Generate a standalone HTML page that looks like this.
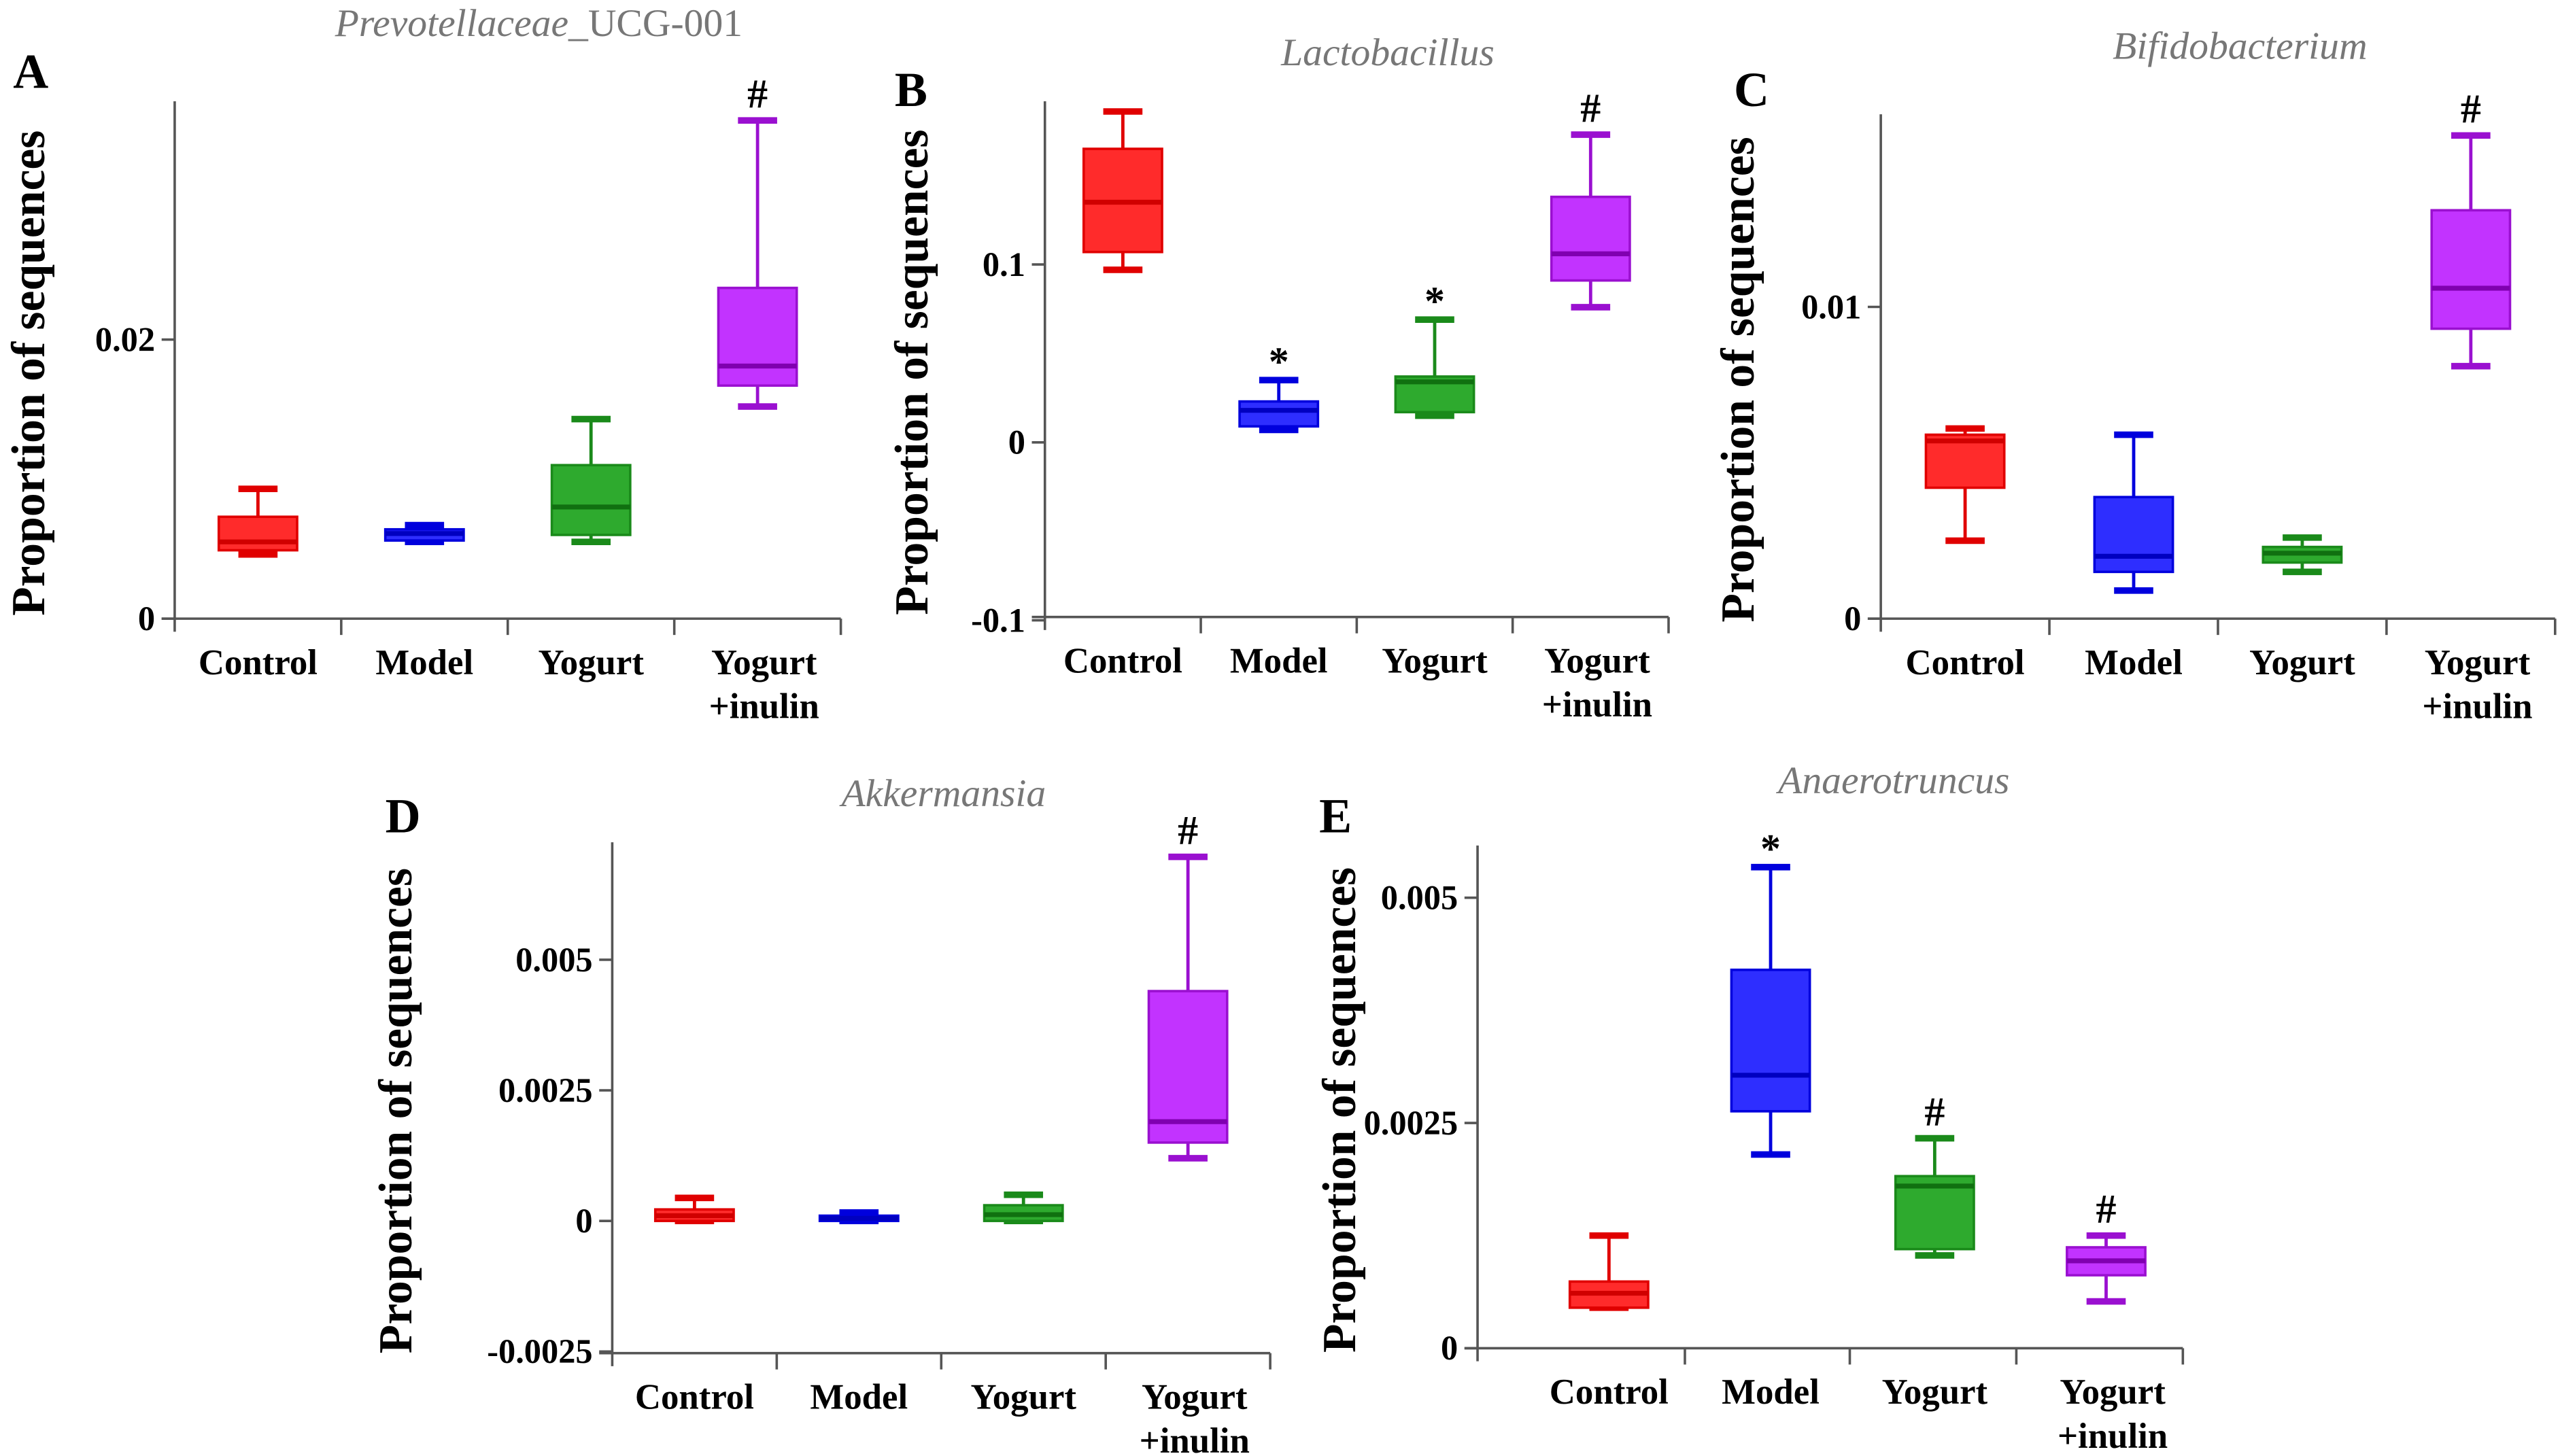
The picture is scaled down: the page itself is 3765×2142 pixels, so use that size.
<!DOCTYPE html>
<html><head><meta charset="utf-8"><style>
html,body{margin:0;padding:0;background:#fff}
svg{display:block}
</style></head><body>
<svg id="fig" width="3765" height="2142" viewBox="0 0 1568 892" xmlns="http://www.w3.org/2000/svg" font-family="'Liberation Serif', 'Times New Roman', serif"></svg>
<script>
const categories = ["Control","Model","Yogurt","Yogurt+inulin"];
// [min, q1, median, q3, max] per group
const prevotellaData = [[0.0046,0.0049,0.0055,0.0073,0.0093],[0.0055,0.0056,0.0061,0.0064,0.0067],[0.0055,0.006,0.008,0.011,0.0143],[0.0152,0.0167,0.0181,0.0237,0.0357]];
const lactoData = [[0.097,0.107,0.135,0.165,0.186],[0.007,0.009,0.018,0.023,0.035],[0.015,0.017,0.034,0.037,0.069],[0.076,0.091,0.106,0.138,0.173]];
const bifidoData = [[0.0025,0.0042,0.0057,0.0059,0.0061],[0.0009,0.0015,0.002,0.0039,0.0059],[0.0015,0.0018,0.0021,0.0023,0.0026],[0.0081,0.0093,0.0106,0.0131,0.0155]];
const akkData = [[0,0,0.0001,0.00022,0.00044],[0,0,0.00005,0.0001,0.00016],[0,0,0.00012,0.0003,0.0005],[0.0012,0.0015,0.0019,0.0044,0.00697]];
const anaeroData = [[0.00045,0.00045,0.00061,0.00074,0.00125],[0.00215,0.00263,0.00303,0.0042,0.00534],[0.00103,0.0011,0.0018,0.00191,0.00233],[0.00052,0.00081,0.00097,0.00112,0.00125]];
const prevotellaTicks = [0,0.02], prevotellaTickLabels = ["0","0.02"];
const lactoTicks = [-0.1,0,0.1], lactoTickLabels = ["-0.1","0","0.1"];
const bifidoTicks = [0,0.01], bifidoTickLabels = ["0","0.01"];
const akkTicks = [-0.0025,0,0.0025,0.005], akkTickLabels = ["-0.0025","0","0.0025","0.005"];
const anaeroTicks = [0,0.0025,0.005], anaeroTickLabels = ["0","0.0025","0.005"];
const prevotellaMarks = ["","","","#"], lactoMarks = ["","*","*","#"], bifidoMarks = ["","","","#"], akkMarks = ["","","","#"], anaeroMarks = ["","*","#","#"];

const fills = ["#ff2b2b","#2e2eff","#2eaa2e","#c233ff"];
const strokes = ["#e00000","#0000dd","#1a8a1a","#9a10d0"];
const meds = ["#d00000","#0000c0","#107010","#8000b0"];
const FONT = "'Liberation Serif', 'Times New Roman', serif";
const NS = "http://www.w3.org/2000/svg";
const svg = document.getElementById('fig');
function el(tag, attrs, parent, txt){const e=document.createElementNS(NS,tag);for(const k in attrs)e.setAttribute(k,attrs[k]);if(tag==='text')e.setAttribute('font-family',FONT);if(txt!==undefined)e.textContent=txt;(parent||svg).appendChild(e);return e;}

function panel(cfg){
  const g = el('g',{});
  
  
  const yScale = v => cfg.y0 + (v - cfg.v0)/(cfg.v1 - cfg.v0)*(cfg.y1 - cfg.y0);
  const step = (cfg.xEnd - cfg.x0)/4;
  const divs = cfg.divs || [1,2,3,4].map(i=>cfg.x0+step*i);
  const edges = [cfg.x0].concat(divs);
  const xc = i => (cfg.centerShift? (edges[i]+edges[i+1])/2 + cfg.centerShift[i] : (edges[i]+edges[i+1])/2);
  const ya = el('line',{x1:cfg.x0,y1:cfg.top,x2:cfg.x0,y2:cfg.base+8,stroke:'#555','stroke-width':1.5},g);
  
  
  const xa = el('line',{x1:cfg.x0-8,y1:cfg.base,x2:cfg.xEnd,y2:cfg.base,stroke:'#555','stroke-width':1.5},g);
  
  
  divs.forEach(x=>{el('line',{x1:x,y1:cfg.base,x2:x,y2:cfg.base+10,stroke:'#555','stroke-width':1.5},g);});
  cfg.ticks.forEach((t,i)=>{
    const y=yScale(t);
    el('line',{x1:cfg.x0-8,y1:y,x2:cfg.x0,y2:y,stroke:'#555','stroke-width':1.5},g);
    const tl=el('text',{x:cfg.x0-12,y:y+7,'text-anchor':'end','font-size':21,'font-weight':'bold'},g,cfg.tickLabels[i]);
    
    
  });
  const yl=el('text',{x:0,y:0,transform:`translate(${cfg.ylx},${(cfg.top+cfg.base)/2+8}) rotate(-90)`,'text-anchor':'middle','font-size':29,'font-weight':'bold'},g,'Proportion of sequences');
  
  
  const lt=el('text',{x:cfg.lx,y:cfg.ly,'font-size':30,'font-weight':'bold'},g,cfg.letter);
  
  
  const tt=el('text',{x:cfg.tx,y:cfg.ty,'text-anchor':'middle','font-size':24,fill:'#777'},g);
  
  
  el('tspan',{'font-style':'italic'},tt,cfg.title);
  if(cfg.titleRest) el('tspan',{},tt,cfg.titleRest);
  cfg.data.forEach((d,i)=>{
    const cx=xc(i), w=48, cap=24;
    const bg=el('g',{},g);
    
    
    const [mn,q1,md,q3,mx]=d.map(yScale);
    el('line',{x1:cx,y1:mx,x2:cx,y2:q3,stroke:strokes[i],'stroke-width':2},bg);
    el('line',{x1:cx,y1:q1,x2:cx,y2:mn,stroke:strokes[i],'stroke-width':2},bg);
    el('line',{x1:cx-cap/2,y1:mx,x2:cx+cap/2,y2:mx,stroke:strokes[i],'stroke-width':4},bg);
    el('line',{x1:cx-cap/2,y1:mn,x2:cx+cap/2,y2:mn,stroke:strokes[i],'stroke-width':4},bg);
    el('rect',{x:cx-w/2,y:q3,width:w,height:Math.max(q1-q3,2),fill:fills[i],stroke:strokes[i],'stroke-width':1.5},bg);
    el('line',{x1:cx-w/2,y1:md,x2:cx+w/2,y2:md,stroke:meds[i],'stroke-width':3},bg);
    if(cfg.marks[i]){
      const m=el('text',{x:cx,y:mx-(cfg.marks[i]==='*'?3:8),'text-anchor':'middle','font-size':25,'font-weight':'bold'},bg,cfg.marks[i]);
      
      
    }
    const lines = i===3?["Yogurt","+inulin"]:[categories[i]];
    lines.forEach((s,k)=>{
      const c=el('text',{x:cx+(i===3?4:0),y:cfg.base+34+k*27,'text-anchor':'middle','font-size':22,'font-weight':'bold'},g,s);
      
      
    });
  });
}
panel({letter:'A',lx:8,ly:54,title:'Prevotellaceae',titleRest:'_UCG-001',tx:330,ty:22,x0:107,xEnd:515,top:62,base:379,v0:0,v1:0.02,y0:379,y1:208,ticks:prevotellaTicks,tickLabels:prevotellaTickLabels,data:prevotellaData,marks:prevotellaMarks,ylx:27});
panel({letter:'B',lx:548,ly:65,title:'Lactobacillus',tx:850,ty:40,x0:640,xEnd:1022,top:62,base:378,v0:0,v1:0.1,y0:271,y1:162,ticks:lactoTicks,tickLabels:lactoTickLabels,data:lactoData,marks:lactoMarks,ylx:568});
panel({letter:'C',lx:1062,ly:65,title:'Bifidobacterium',tx:1372,ty:36,x0:1152,xEnd:1565,top:70,base:379,v0:0,v1:0.01,y0:379,y1:188,ticks:bifidoTicks,tickLabels:bifidoTickLabels,data:bifidoData,marks:bifidoMarks,ylx:1074});
panel({letter:'D',lx:236,ly:510,title:'Akkermansia',tx:578,ty:494,x0:375,xEnd:778,top:516,base:829,v0:0,v1:0.0025,y0:748,y1:668,ticks:akkTicks,tickLabels:akkTickLabels,data:akkData,marks:akkMarks,ylx:252});
panel({letter:'E',lx:808,ly:510,title:'Anaerotruncus',tx:1160,ty:486,x0:905,xEnd:1337,divs:[1032,1133,1235,1337],centerShift:[17,2,1,4],top:518,base:826,v0:0,v1:0.0025,y0:826,y1:688,ticks:anaeroTicks,tickLabels:anaeroTickLabels,data:anaeroData,marks:anaeroMarks,ylx:830});
</script>
</body></html>
